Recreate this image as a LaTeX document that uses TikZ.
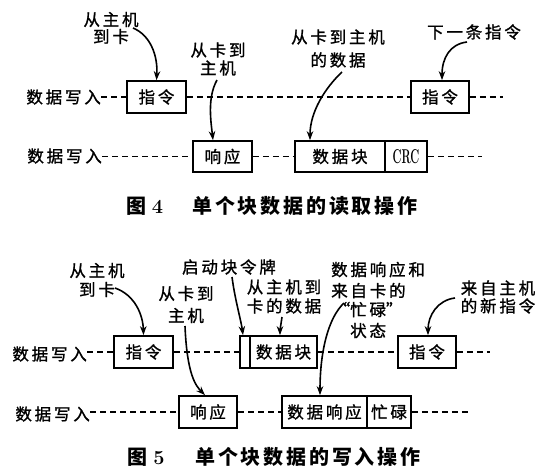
\documentclass[tikz,border=0pt]{standalone}
\usepackage{fontspec}
\newfontfamily\cjk{Noto Sans CJK SC}[LetterSpace=17,FakeBold=1.2]
\newfontfamily\cjkcap{Noto Sans CJK SC}[LetterSpace=14]
\usetikzlibrary{arrows.meta}
\begin{document}
\begin{tikzpicture}[x=1pt,y=-1pt,
  lbl/.style={font=\cjk\fontsize{16.5}{19}\selectfont, inner sep=0pt, align=center},
  cell/.style={draw, line width=1.7pt, inner sep=0pt, font=\cjk\fontsize{16.5}{19}\selectfont, minimum height=32pt},
  dline/.style={line width=1.3pt, dash pattern=on 6pt off 4pt},
  arr/.style={line width=1.6pt, -{Stealth[length=9pt,width=6.5pt]}},
  captxt/.style={font=\cjkcap\bfseries\fontsize{20}{24}\selectfont, inner sep=0pt}]
\useasboundingbox (0,0) rectangle (560,472);
\fill[white] (0,0) rectangle (560,472);

% ---------- Figure 4 ----------
\node[lbl, anchor=east] (r1) at (101,97) {数据写入};
\node[lbl, anchor=east] (r2) at (102,156) {数据写入};
\node[cell, minimum width=59pt] (cmdA) at (156.5,97) {指令};
\node[cell, minimum width=58pt] (cmdB) at (440,97) {指令};
\node[cell, minimum width=59pt, minimum height=31pt] (resp) at (222.5,156.5) {响应};
\node[cell, minimum width=90pt, minimum height=31pt] (blk) at (340,156.5) {数据块};
\node[cell, minimum width=42pt, minimum height=31pt, font=\fontsize{20}{22}\selectfont] (crc) at (406,156.5) {\scalebox{0.55}[1]{\bfseries CRC}};
\coordinate (e1) at (503,97);
\coordinate (e2) at (482,156.5);
\draw[dline] (r1.east) -- (cmdA.west);
\draw[dline] (cmdA.east) -- (cmdB.west);
\draw[dline] (cmdB.east) -- (e1);
\draw[dline] (r2.east |- resp.west) -- (resp.west);
\draw[dline] (resp.east) -- (blk.west);
\draw[dline] (crc.east) -- (e2);

\node[lbl] (a1) at (111,28) {从主机\\[-2pt]到卡};
\node[lbl] (a2) at (218,59) {从卡到\\[-1pt]主机};
\node[lbl] (a3) at (338,48.5) {从卡到主机\\[4pt]的数据};
\node[lbl] (a4) at (474,32) {下一条指令};

\coordinate (s1) at (133,28);
\coordinate (s2) at (217,80);
\coordinate (s3) at (342,72);
\coordinate (s4) at (467,42);
\draw[arr] (s1) .. controls (150,35) and (158,55) .. (cmdA.north);
\draw[arr] (s2) .. controls (207,98) and (211,122) .. ([xshift=-9.5pt]resp.north);
\draw[arr] (s3) .. controls (325,88) and (310,112) .. ([xshift=-30pt]blk.north);
\draw[arr] (s4) .. controls (450,44) and (442,58) .. ([xshift=2pt]cmdB.north);

\node[captxt] (c4a) at (145,206) {图\hspace{5pt}{\rmfamily\bfseries 4}};
\node[captxt] (c4b) at (305,206) {单个块数据的读取操作};

% ---------- Figure 5 ----------
\node[lbl, anchor=east] (q1) at (87,354) {数据写入};
\node[lbl, anchor=east] (q2) at (90,414) {数据写入};
\node[cell, minimum width=59pt] (cmdC) at (143.5,352) {指令};
\node[cell, minimum width=10pt] (tok) at (245,352) {};
\node[cell, minimum width=67pt] (blk2) at (283.5,352) {数据块};
\node[cell, minimum width=58pt] (cmdD) at (427,352) {指令};
\node[cell, minimum width=58.5pt] (resp2) at (208,412) {响应};
\node[cell, minimum width=85pt] (dresp) at (324.5,412) {数据响应};
\node[cell, minimum width=44pt] (busy) at (389,412) {忙碌};
\coordinate (f1) at (490,352);
\coordinate (f2) at (468,412);
\draw[dline] (q1.east |- cmdC.west) -- (cmdC.west);
\draw[dline] (cmdC.east) -- (tok.west);
\draw[dline] (blk2.east) -- (cmdD.west);
\draw[dline] (cmdD.east) -- (f1);
\draw[dline] (q2.east |- resp2.west) -- (resp2.west);
\draw[dline] (resp2.east) -- (dresp.west);
\draw[dline] (busy.east) -- (f2);

\node[lbl] (b1) at (97,280) {从主机\\到卡};
\node[lbl] (b2) at (186,304.5) {从卡到\\[3pt]主机};
\node[lbl] (b3) at (229,267) {启动块令牌};
\node[lbl] (b4) at (284,296.5) {从主机到\\卡的数据};
\node[lbl, align=left, anchor=west] (b5) at (331,300) {数据响应和\\[2pt]来自卡的\\\makebox[19pt][r]{“}忙碌\makebox[16pt][l]{”}\\[2pt]\hspace{19pt}状态};
\node[lbl] (b6) at (498,297) {来自主机\\[-1pt]的新指令};

\coordinate (t1) at (115,288);
\coordinate (t2) at (185,326);
\coordinate (t3) at (232,277);
\coordinate (t4) at (282,317);
\coordinate (t5) at (344,303);
\coordinate (t6) at (455,298);
\draw[arr] (t1) .. controls (135,295) and (143,315) .. (cmdC.north);
\draw[arr] (t2) .. controls (187,375) and (196,386) .. ([xshift=-3pt]resp2.north);
\draw[arr] (t3) .. controls (235,300) and (241,320) .. ([xshift=-2pt]tok.north);
\draw[arr] (t4) .. controls (281,324) and (280,330) .. ([xshift=-3.5pt]blk2.north);
\draw[arr] (t5) .. controls (328,318) and (320,352) .. ([xshift=-4.5pt]dresp.north);
\draw[arr] (t6) .. controls (438,300) and (428,315) .. ([xshift=1pt]cmdD.north);

\node[captxt] (c5a) at (146,457) {图\hspace{6pt}{\rmfamily\bfseries 5}};
\node[captxt] (c5b) at (308,457) {单个块数据的写入操作};
\end{tikzpicture}
\end{document}
